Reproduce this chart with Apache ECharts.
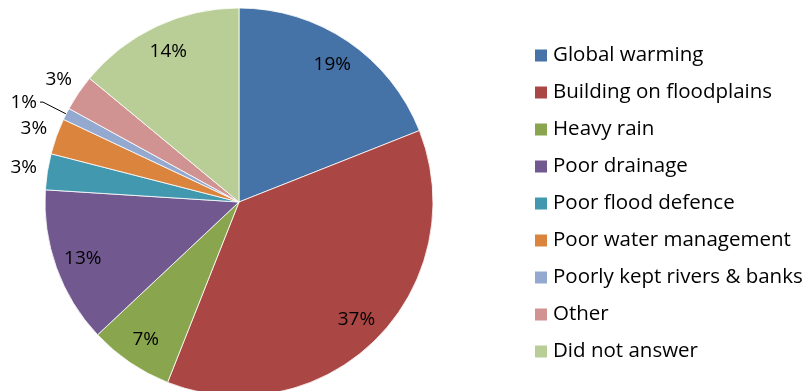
<!DOCTYPE html>
<html>
<head>
<meta charset="utf-8">
<script src="https://cdn.jsdelivr.net/npm/echarts@6/dist/echarts.min.js"></script>
<style>
  html, body { margin: 0; padding: 0; background: #fff; }
  #chart { width: 808px; height: 391px; }
</style>
</head>
<body>
<div id="chart"></div>
<script>
// Causes of flooding, share of responses (%)
const categories = [
  'Global warming',
  'Building on floodplains',
  'Heavy rain',
  'Poor drainage',
  'Poor flood defence',
  'Poor water management',
  'Poorly kept rivers & banks',
  'Other',
  'Did not answer'
];
const shares = [19, 37, 7, 13, 3, 3, 1, 3, 14];
const colors = ['#4572A7', '#AA4643', '#89A54E', '#71588F', '#4198AF',
                '#DB843D', '#93A9CF', '#D19392', '#B9CD96'];

const FONT = '"Open Sans", sans-serif';
const CENTER = [239, 202];
const R = 194;

const baseData = categories.map((name, i) => ({ name, value: shares[i] }));

// Which slices get which label placement
const isLarge = v => v >= 5;
const isTiny = v => v < 2;
const isSmall = v => !isLarge(v) && !isTiny(v);

const labelText = { color: '#000', fontSize: 19, fontFamily: FONT, formatter: '{c}%' };

const overlay = {
  type: 'pie',
  center: CENTER,
  silent: true,
  startAngle: 90,
  clockwise: true,
  avoidLabelOverlap: false,
  itemStyle: { color: 'transparent', borderWidth: 0 },
  emphasis: { disabled: true },
  labelLine: { show: false },
  animation: false
};

const chart = echarts.init(document.getElementById('chart'), null, { renderer: 'canvas' });
chart.setOption({
  backgroundColor: '#fff',
  animation: false,
  legend: {
    orient: 'vertical',
    left: 533,
    top: 45,
    padding: 0,
    itemWidth: 14,
    itemHeight: 14,
    itemGap: 16,
    itemTextGap: 6,
    icon: 'rect',
    selectedMode: false,
    data: categories,
    textStyle: { color: '#000', fontSize: 20.5, fontFamily: FONT, lineHeight: 20 }
  },
  series: [
    {
      // the pie itself, with the leader-lined label for the tiniest slice
      type: 'pie',
      center: CENTER,
      radius: [0, R],
      startAngle: 90,
      clockwise: true,
      avoidLabelOverlap: false,
      itemStyle: { borderColor: '#fff', borderWidth: 0.8 },
      emphasis: { disabled: true },
      data: baseData.map((d, i) => ({
        name: d.name,
        value: d.value,
        itemStyle: { color: colors[i] },
        label: isTiny(d.value)
          ? Object.assign({ show: true, position: 'outside', distanceToLabelLine: 3 }, labelText)
          : { show: false },
        labelLine: isTiny(d.value)
          ? { show: true, length: 26, length2: 3, lineStyle: { color: '#000', width: 1 } }
          : { show: false }
      }))
    },
    Object.assign({}, overlay, {
      // labels inside the larger slices
      radius: [132, R],
      data: baseData.map(d => ({
        name: d.name,
        value: d.value,
        label: isLarge(d.value)
          ? Object.assign({ show: true, position: 'inside' }, labelText)
          : { show: false }
      }))
    }),
    Object.assign({}, overlay, {
      // labels just outside the small slices
      radius: [R, 236],
      data: baseData.map(d => ({
        name: d.name,
        value: d.value,
        label: isSmall(d.value)
          ? Object.assign({ show: true, position: 'inside' }, labelText)
          : { show: false }
      }))
    })
  ]
});
</script>
</body>
</html>
